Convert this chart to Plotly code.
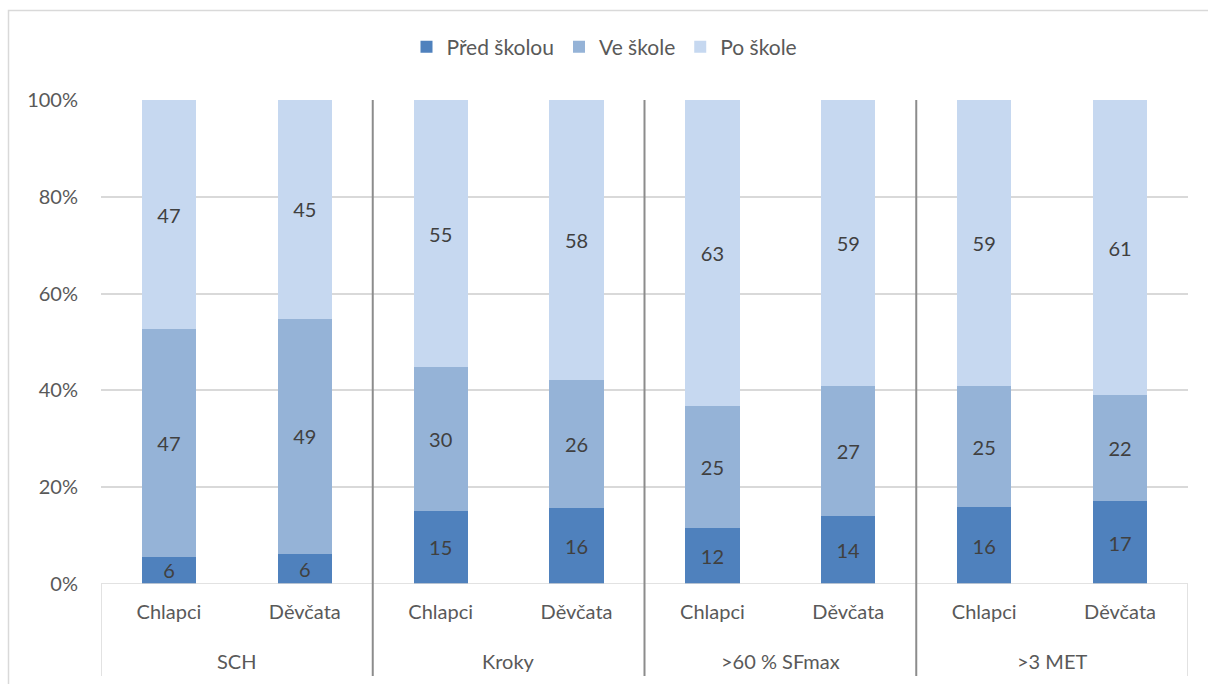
import plotly.graph_objects as go

groups = ["SCH", "Kroky", ">60 % SFmax", ">3 MET"]
genders = ["Chlapci", "Děvčata"]
series_names = ["Před školou", "Ve škole", "Po škole"]
pred_skolou = [5.6, 6.2, 15.1, 15.7, 11.6, 14.0, 15.9, 17.1]
ve_skole = [47.0, 48.6, 29.7, 26.4, 25.2, 26.9, 25.0, 21.9]
po_skole = [47.4, 45.2, 55.2, 57.9, 63.2, 59.1, 59.1, 61.0]
colors = ["#4f81bd", "#95b3d7", "#c6d8f0"]
y_ticks = [0, 20, 40, 60, 80, 100]
y_tick_text = ["0%", "20%", "40%", "60%", "80%", "100%"]

cat_labels = [g for _ in groups for g in genders]
xpos = list(range(len(cat_labels)))

FONT = "Lato"
TXT = "#595959"

fig = go.Figure()
for name, vals, col in zip(series_names, [pred_skolou, ve_skole, po_skole], colors):
    fig.add_trace(go.Bar(
        x=xpos, y=vals, name=name, marker=dict(color=col, line=dict(width=0)),
        texttemplate="%{y:.0f}", textposition="inside", insidetextanchor="middle",
        textangle=0,
        textfont=dict(family=FONT, size=20, color="#404040"),
        constraintext="none", hoverinfo="skip",
    ))

W, H = 1208, 684
PL, PR, PT, PB = 101, 1188, 100, 584  # plot area in page pixels
L, T, R, B = PL, PT, W - PR, H - PB
pw, ph = PR - PL, PB - PT

def px_to_paper_x(px):
    return (px - PL) / pw

def px_to_paper_y(py):
    return (PB - py) / ph

shapes = []
shapes.append(dict(type="rect", xref="paper", yref="paper",
                   x0=px_to_paper_x(8.5), x1=px_to_paper_x(1230),
                   y0=px_to_paper_y(720), y1=px_to_paper_y(10.5),
                   line=dict(color="#d9d9d9", width=1.5), fillcolor="rgba(0,0,0,0)", layer="below"))
shapes.append(dict(type="line", xref="x", yref="y", x0=-0.5, x1=len(xpos) - 0.5, y0=0, y1=0,
                   line=dict(color="#d9d9d9", width=1.5)))
for xv in [-0.5, len(xpos) - 0.5]:
    shapes.append(dict(type="line", xref="x", yref="paper", x0=xv, x1=xv,
                       y0=px_to_paper_y(676), y1=0, line=dict(color="#d9d9d9", width=1.5)))
for gi in range(1, len(groups)):
    xv = gi * len(genders) - 0.5
    shapes.append(dict(type="line", xref="x", yref="paper", x0=xv, x1=xv,
                       y0=px_to_paper_y(676), y1=1, line=dict(color="#8c8c8c", width=2)))

annotations = []
for gi, g in enumerate(groups):
    annotations.append(dict(x=gi * len(genders) + (len(genders) - 1) / 2, xref="x",
                            y=px_to_paper_y(661), yref="paper", text=g, showarrow=False,
                            font=dict(family=FONT, size=20, color=TXT), yanchor="middle"))

fig.update_layout(
    width=W, height=H, margin=dict(l=L, r=R, t=T, b=B),
    paper_bgcolor="white", plot_bgcolor="white",
    barmode="stack", bargap=0.6,
    font=dict(family=FONT, size=20, color=TXT),
    uniformtext=dict(mode="show", minsize=20),
    shapes=shapes, annotations=annotations,
    legend=dict(orientation="h", x=0.5 - 40 / pw, xanchor="center", y=px_to_paper_y(47), yanchor="middle",
                font=dict(family=FONT, size=21, color=TXT), traceorder="normal",
                itemwidth=30, tracegroupgap=0),
    xaxis=dict(range=[-0.5, len(xpos) - 0.5], tickvals=xpos, ticktext=cat_labels,
               showgrid=False, zeroline=False, showline=False, ticks="",
               tickfont=dict(family=FONT, size=20, color=TXT), ticklabelstandoff=14),
    yaxis=dict(range=[0, 100], tickvals=y_ticks, ticktext=y_tick_text, showgrid=True,
               gridcolor="#d9d9d9", gridwidth=1.5, zeroline=False, showline=False,
               tickfont=dict(family=FONT, size=20, color=TXT), ticklabelstandoff=22),
)

fig.write_html("out.html", config={"displayModeBar": False},
               post_script="document.body.style.margin='0';document.body.style.overflow='hidden';")
